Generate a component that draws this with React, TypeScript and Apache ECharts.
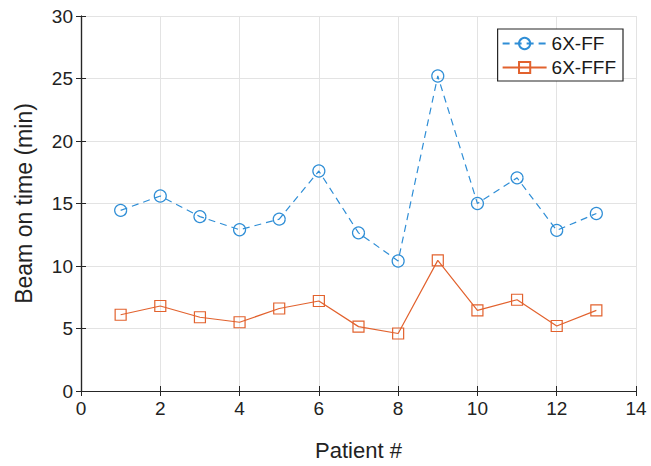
import React, { useEffect, useRef } from "react";
import * as echarts from "echarts";

const patients = [1, 2, 3, 4, 5, 6, 7, 8, 9, 10, 11, 12, 13];
const ffValues = [14.45, 15.6, 13.95, 12.9, 13.75, 17.6, 12.65, 10.4, 25.2, 15.0, 17.05, 12.85, 14.2];
const fffValues = [6.1, 6.8, 5.9, 5.5, 6.6, 7.2, 5.15, 4.6, 10.45, 6.45, 7.3, 5.2, 6.45];
const xTicks = { min: 0, max: 14, interval: 2 };
const yTicks = { min: 0, max: 30, interval: 5 };

const BLUE = "#2F8ED6";
const ORANGE = "#E2622E";
const FONT = "'Liberation Sans', Arial, sans-serif";

export default function App() {
  const ref = useRef<HTMLDivElement>(null);
  useEffect(() => {
    if (!ref.current) return;
    const chart = echarts.init(ref.current, undefined, { renderer: "svg" });
    const axisLine = { show: true, lineStyle: { color: "#262626", width: 1.2 } };
    const tick = { show: true, inside: true, length: 5, lineStyle: { color: "#262626" } };
    chart.setOption({
      animation: false,
      backgroundColor: "#ffffff",
      textStyle: { fontFamily: FONT },
      grid: { left: 81, top: 16, right: 15, bottom: 73, containLabel: false },
      legend: {
        orient: "vertical",
        right: 28,
        top: 29,
        itemWidth: 44,
        itemHeight: 14,
        itemGap: 5,
        padding: [5, 7, 4, 4],
        borderColor: "#262626",
        borderWidth: 1.2,
        backgroundColor: "#ffffff",
        textStyle: { fontFamily: FONT, fontSize: 19, color: "#1a1a1a" },
        data: ["6X-FF", "6X-FFF"],
      },
      xAxis: [
        {
          type: "value",
          min: xTicks.min,
          max: xTicks.max,
          interval: xTicks.interval,
          name: "Patient #",
          nameLocation: "middle",
          nameGap: 48,
          nameTextStyle: { fontFamily: FONT, fontSize: 22, color: "#222" },
          axisLine,
          axisTick: tick,
          axisLabel: { fontFamily: FONT, fontSize: 19, color: "#222", margin: 8 },
          splitLine: { show: true, lineStyle: { color: "#E3E3E3", width: 1 } },
        },
        {
          type: "value",
          position: "top",
          min: xTicks.min,
          max: xTicks.max,
          interval: xTicks.interval,
          axisLine,
          axisTick: tick,
          axisLabel: { show: false },
          splitLine: { show: false },
        },
      ],
      yAxis: [
        {
          type: "value",
          min: yTicks.min,
          max: yTicks.max,
          interval: yTicks.interval,
          name: "Beam on time (min)",
          nameLocation: "middle",
          nameGap: 46,
          nameTextStyle: { fontFamily: FONT, fontSize: 23, color: "#222" },
          axisLine,
          axisTick: tick,
          axisLabel: { fontFamily: FONT, fontSize: 19, color: "#222", margin: 8 },
          splitLine: { show: true, lineStyle: { color: "#E3E3E3", width: 1 } },
        },
        {
          type: "value",
          position: "right",
          min: yTicks.min,
          max: yTicks.max,
          interval: yTicks.interval,
          axisLine,
          axisTick: tick,
          axisLabel: { show: false },
          splitLine: { show: false },
        },
      ],
      series: [
        {
          name: "6X-FF",
          type: "line",
          data: patients.map((p, i) => [p, ffValues[i]]),
          symbol: "circle",
          symbolSize: 12,
          showAllSymbol: true,
          color: BLUE,
          lineStyle: { color: BLUE, width: 1.2, type: [7, 5] },
          itemStyle: { color: "rgba(255,255,255,0)", borderColor: BLUE, borderWidth: 1.2 },
          z: 3,
        },
        {
          name: "6X-FFF",
          type: "line",
          data: patients.map((p, i) => [p, fffValues[i]]),
          symbol: "rect",
          symbolSize: 11,
          showAllSymbol: true,
          color: ORANGE,
          lineStyle: { color: ORANGE, width: 1.2 },
          itemStyle: { color: "rgba(255,255,255,0)", borderColor: ORANGE, borderWidth: 1.2 },
          z: 3,
        },
      ],
    });
    return () => chart.dispose();
  }, []);
  return <div ref={ref} style={{ width: 651, height: 466, position: "absolute", left: 0, top: 0 }} />;
}
